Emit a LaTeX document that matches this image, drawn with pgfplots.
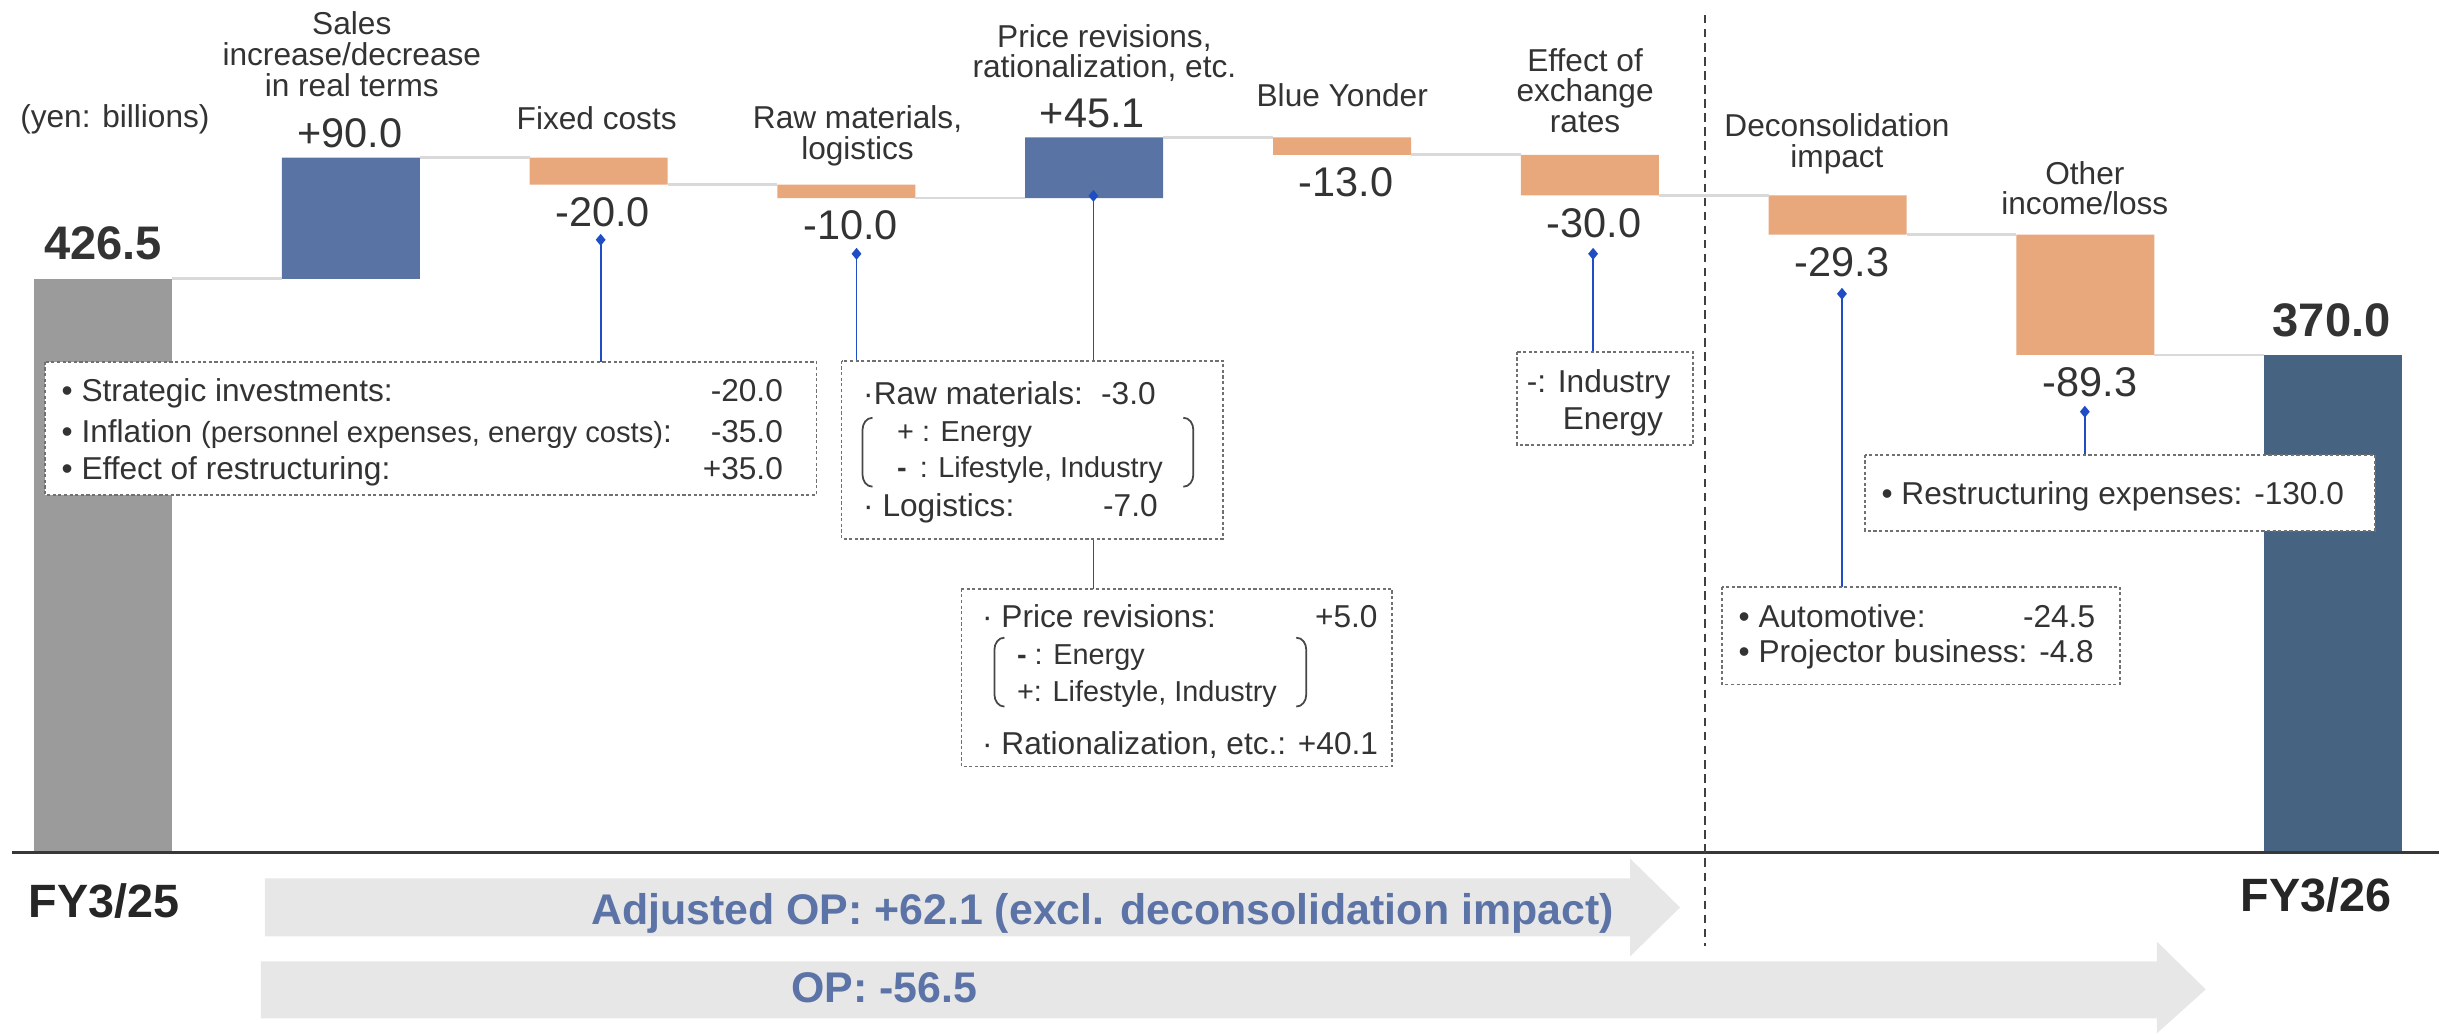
\documentclass[border=0pt]{standalone}
\usepackage{fontspec}
\setmainfont{Liberation Sans}
\usepackage{pgfplots}
\pgfplotsset{compat=1.18}
\usetikzlibrary{arrows.meta}
\definecolor{bgrey}{HTML}{9B9B9B}
\definecolor{bblue}{HTML}{5A73A5}
\definecolor{borange}{HTML}{E8A87C}
\definecolor{bdark}{HTML}{476382}
\definecolor{conn}{HTML}{D9D9D9}
\definecolor{txt}{HTML}{333333}
\definecolor{callout}{HTML}{1F4EC4}
\definecolor{arrowfill}{HTML}{E7E7E7}
\definecolor{arrowtxt}{HTML}{5B73A6}
\definecolor{boxline}{HTML}{707070}
\begin{document}
\begin{tikzpicture}
\pgfplotsset{wfaxis/.style={at={(0,0)}, anchor=south west, scale only axis,
  width=24.4cm, height=10.34cm, xmin=-0.4157, xmax=9.431, ymin=-134.5, ymax=633.7,
  axis lines=none, ticks=none, clip=false}}
% bars
\begin{axis}[wfaxis, ybar stacked, bar width=0.557]
\addplot[draw=none, fill=none] coordinates {(0,0) (1,426.5) (2,496.5) (3,486.5) (4,486.5) (5,518.6) (6,488.6) (7,459.3) (8,370) (9,0)};
\addplot[draw=none, fill=bgrey] coordinates {(0,426.5) (1,0) (2,0) (3,0) (4,0) (5,0) (6,0) (7,0) (8,0) (9,0)};
\addplot[draw=none, fill=bblue] coordinates {(0,0) (1,90) (2,0) (3,0) (4,45.1) (5,0) (6,0) (7,0) (8,0) (9,0)};
\addplot[draw=none, fill=borange] coordinates {(0,0) (1,0) (2,20) (3,10) (4,0) (5,13) (6,30) (7,29.3) (8,89.3) (9,0)};
\addplot[draw=none, fill=bdark] coordinates {(0,0) (1,0) (2,0) (3,0) (4,0) (5,0) (6,0) (7,0) (8,0) (9,370)};
\end{axis}
% connectors
\begin{axis}[wfaxis]
\addplot[conn, line width=0.8pt] coordinates {(0.2785,426.5) (0.7215,426.5)};
\addplot[conn, line width=0.8pt] coordinates {(1.2785,516.5) (1.7215,516.5)};
\addplot[conn, line width=0.8pt] coordinates {(2.2785,496.5) (2.7215,496.5)};
\addplot[conn, line width=0.8pt] coordinates {(3.2785,486.5) (3.7215,486.5)};
\addplot[conn, line width=0.8pt] coordinates {(4.2785,531.6) (4.7215,531.6)};
\addplot[conn, line width=0.8pt] coordinates {(5.2785,518.6) (5.7215,518.6)};
\addplot[conn, line width=0.8pt] coordinates {(6.2785,488.6) (6.7215,488.6)};
\addplot[conn, line width=0.8pt] coordinates {(7.2785,459.3) (7.7215,459.3)};
\addplot[conn, line width=0.8pt] coordinates {(8.2785,370) (8.7215,370)};
\end{axis}
\begin{scope}[yshift=10.34cm, x=0.01cm, y=-0.01cm,
  lab/.style={font=\fontsize{9}{9}\selectfont, text=txt, inner sep=0pt, anchor=base},
  val/.style={font=\fontsize{11.8}{12}\selectfont, text=txt, inner sep=0pt, anchor=base},
  tot/.style={font=\bfseries\fontsize{13.4}{14}\selectfont, text=txt, inner sep=0pt, anchor=base},
  bx/.style={font=\fontsize{9}{9}\selectfont, text=txt, inner sep=0pt},
  bxs/.style={font=\fontsize{8.2}{9}\selectfont, text=txt, inner sep=0pt},
  dbox/.style={draw=boxline, line width=0.5pt, dash pattern=on 0.9pt off 0.7pt},
  co/.style={draw=callout, line width=0.5pt},
  cod/.style={draw=callout, line width=0.5pt, {Diamond[width=2.8pt,length=3.4pt]}-},
  par/.style={draw=txt!90, line width=0.5pt}]
% bottom arrows
\fill[arrowfill] (265,879) -- (1631,879) -- (1631,859) -- (1681,908) -- (1631,957) -- (1631,937) -- (265,937) -- cycle;
\fill[arrowfill] (261,962) -- (2158,962) -- (2158,942) -- (2207,990) -- (2158,1034) -- (2158,1019) -- (261,1019) -- cycle;
% baseline
\draw[line width=1pt, color=black!78] (12,853) -- (2440,853);
% dashed divider
\draw[line width=0.6pt, color=black!75, dash pattern=on 2.4pt off 1.6pt] (1706,15) -- (1706,947);
% arrow texts
\node[font=\bfseries\fontsize{12.2}{13}\selectfont, text=arrowtxt, inner sep=0pt, anchor=base] at (1103,925) {Adjusted OP: +62.1 (excl. deconsolidation impact)};
\node[font=\bfseries\fontsize{12.2}{13}\selectfont, text=arrowtxt, inner sep=0pt, anchor=base] at (885,1003) {OP: -56.5};
\node[font=\bfseries\fontsize{13.3}{14}\selectfont, text=black!85, inner sep=0pt, anchor=base west] at (28,918) {FY3/25};
\node[font=\bfseries\fontsize{13.3}{14}\selectfont, text=black!85, inner sep=0pt, anchor=base west] at (2241,912) {FY3/26};
% category labels
\node[lab] at (115,128) {(yen: billions)};
\node[lab] at (352,35) {Sales};
\node[lab] at (352,66) {increase/decrease};
\node[lab] at (352,97) {in real terms};
\node[lab] at (597,130) {Fixed costs};
\node[lab] at (858,129) {Raw materials,};
\node[lab] at (858,160) {logistics};
\node[lab] at (1105,48) {Price revisions,};
\node[lab] at (1105,78) {rationalization, etc.};
\node[lab] at (1343,107) {Blue Yonder};
\node[lab] at (1586,72) {Effect of};
\node[lab] at (1586,102) {exchange};
\node[lab] at (1586,133) {rates};
\node[lab] at (1838,137) {Deconsolidation};
\node[lab] at (1838,168) {impact};
\node[lab] at (2086,185) {Other};
\node[lab] at (2086,215) {income/loss};
% values
\node[tot] at (103,260) {426.5};
\node[val] at (350,148) {+90.0};
\node[val] at (603,227) {-20.0};
\node[val] at (851,240) {-10.0};
\node[val] at (1093,128) {+45.1};
\node[val] at (1347,197) {-13.0};
\node[val] at (1595,238) {-30.0};
\node[val] at (1843,277) {-29.3};
\node[val] at (2091,397) {-89.3};
\node[tot] at (2333,337) {370.0};
% callout lines
\draw[cod] (601,234) -- (601,362);
\draw[cod] (857,248) -- (857,361);
\draw[cod] (1094,190) -- (1094,361);
\draw[co] (1094,539) -- (1094,589);
\draw[cod] (1594,248) -- (1594,352);
\draw[cod] (1843,288) -- (1843,587);
\draw[cod] (2086,406) -- (2086,455);
% box 1
\fill[white] (45,362) rectangle (817,495);
\draw[dbox] (45,362) rectangle (817,495);
\node[bx, anchor=base west] at (61,402) {• Strategic investments:};
\node[bx, anchor=base east] at (784,402) {-20.0};
\node[bx, anchor=base west] at (61,443) {• Inflation {\fontsize{8.3}{8}\selectfont(personnel expenses, energy costs)}:};
\node[bx, anchor=base east] at (784,443) {-35.0};
\node[bx, anchor=base west] at (61,480) {• Effect of restructuring:};
\node[bx, anchor=base east] at (784,480) {+35.0};
% raw materials box
\fill[white] (842,361) rectangle (1224,539);
\draw[dbox] (842,361) rectangle (1224,539);
\node[bx, anchor=base west] at (863,405) {·Raw materials:};
\node[bx, anchor=base east] at (1157,405) {-3.0};
\node[bxs, anchor=base west] at (897,442) {+ : Energy};
\node[bxs, anchor=base west] at (897,478) {\textbf{-}\hspace{0.45em}: Lifestyle, Industry};
\node[bx, anchor=base west] at (863,517) {· Logistics:};
\node[bx, anchor=base east] at (1159,517) {-7.0};
\draw[par] (873,418) to[out=180,in=90] (863,430) -- (863,475) to[out=270,in=180] (873,487);
\draw[par] (1184,418) to[out=0,in=90] (1194,430) -- (1194,475) to[out=270,in=0] (1184,487);
% price box
\fill[white] (962,589) rectangle (1393,767);
\draw[dbox] (962,589) rectangle (1393,767);
\node[bx, anchor=base west] at (982,628) {· Price revisions:};
\node[bx, anchor=base east] at (1379,628) {+5.0};
\node[bxs, anchor=base west] at (1017,665) {\textbf{-} : Energy};
\node[bxs, anchor=base west] at (1017,702) {+: Lifestyle, Industry};
\node[bx, anchor=base west] at (982,755) {· Rationalization, etc.: +40.1};
\draw[par] (1005,638) to[out=180,in=90] (995,650) -- (995,695) to[out=270,in=180] (1005,707);
\draw[par] (1297,638) to[out=0,in=90] (1307,650) -- (1307,695) to[out=270,in=0] (1297,707);
% exchange box
\fill[white] (1518,352) rectangle (1694,445);
\draw[dbox] (1518,352) rectangle (1694,445);
\node[bx, anchor=base west] at (1527,393) {-: Industry};
\node[bx, anchor=base west] at (1563,430) {Energy};
% deconsolidation box
\fill[white] (1723,587) rectangle (2121,685);
\draw[dbox] (1723,587) rectangle (2121,685);
\node[bx, anchor=base west] at (1739,628) {• Automotive:};
\node[bx, anchor=base east] at (2097,628) {-24.5};
\node[bx, anchor=base west] at (1739,663) {• Projector business: -4.8};
% restructuring box
\fill[white] (1866,455) rectangle (2376,531);
\draw[dbox] (1866,455) rectangle (2376,531);
\node[bx, anchor=base west] at (1882,505) {• Restructuring expenses: -130.0};
\end{scope}
\pgfresetboundingbox
\useasboundingbox (0,0) rectangle (24.4cm,10.34cm);
\end{tikzpicture}
\end{document}
